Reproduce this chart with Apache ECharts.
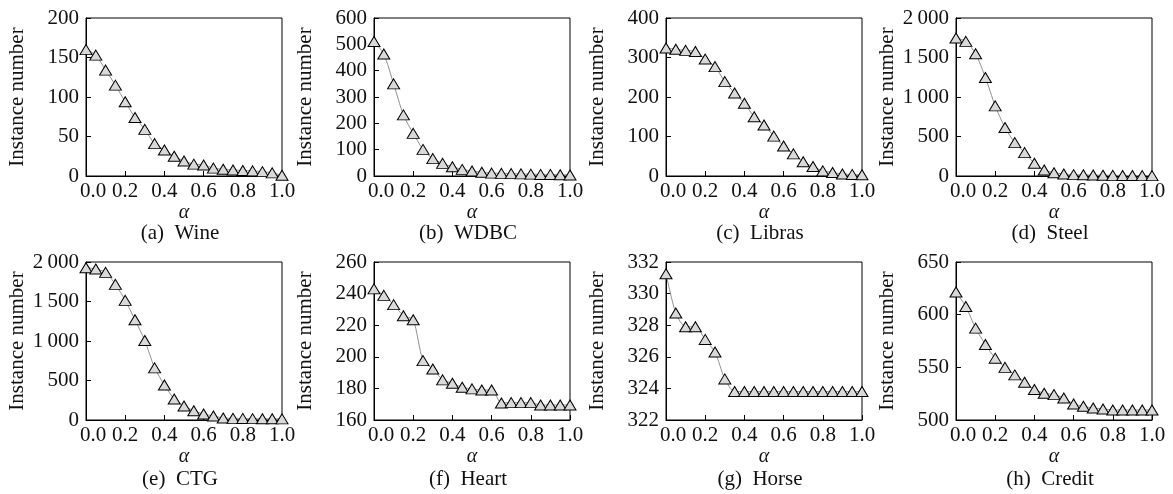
<!DOCTYPE html>
<html>
<head>
<meta charset="utf-8">
<script src="https://cdn.jsdelivr.net/npm/echarts@6/dist/echarts.min.js"></script>
<style>
html,body{margin:0;padding:0;background:#fff;}
#chart{width:1173px;height:494px;}
</style>
</head>
<body>
<div id="chart"></div>
<script>
// ---- data ----
const alpha = [0, 0.05, 0.1, 0.15, 0.2, 0.25, 0.3, 0.35, 0.4, 0.45, 0.5, 0.55, 0.6, 0.65, 0.7, 0.75, 0.8, 0.85, 0.9, 0.95, 1.0];
const panelNames = ['(a)  Wine', '(b)  WDBC', '(c)  Libras', '(d)  Steel', '(e)  CTG', '(f)  Heart', '(g)  Horse', '(h)  Credit'];
const wine   = [160, 153, 134, 115, 94, 74, 59, 41, 33, 25, 19, 15, 14, 10, 8.5, 7.6, 7, 6.5, 5.5, 4, 1];
const wdbc   = [511, 463, 350, 232, 162, 101, 66, 48, 35, 25, 19, 14, 11, 10, 9, 8, 7, 6, 6, 5, 4];
const libras = [324, 321, 318, 315, 296, 277, 239, 210, 184, 150, 129, 101, 76, 56, 36, 24, 13, 9, 5, 4, 3];
const steel  = [1746, 1704, 1548, 1247, 888, 613, 423, 296, 161, 76, 42, 25, 17, 15, 12, 10, 8, 7, 6, 5, 5];
const ctg    = [1928, 1911, 1869, 1717, 1514, 1268, 1006, 660, 444, 266, 178, 118, 76, 51, 25, 21, 20, 17, 16, 15, 14];
const heart  = [243, 238.9, 233, 226, 223.4, 197.6, 192.3, 185.4, 183.3, 180.7, 179.7, 179, 179, 170.8, 171, 171, 171, 169.5, 169.5, 169.5, 169.5];
const horse  = [331.26, 328.77, 327.9, 327.9, 327.1, 326.3, 324.6, 323.8, 323.8, 323.8, 323.8, 323.8, 323.8, 323.8, 323.8, 323.8, 323.8, 323.8, 323.8, 323.8, 323.8];
const credit = [621.5, 607.8, 587.2, 571.7, 558.7, 550, 542.8, 535.8, 528.9, 525.4, 524.1, 520.9, 515.2, 513, 511.4, 510.5, 509.5, 509.5, 509.5, 509.5, 509.5];
const yMins = [0, 0, 0, 0, 0, 160, 322, 500];
const yMaxs = [200, 600, 400, 2000, 2000, 260, 332, 650];
const yIntervals = [50, 100, 100, 500, 500, 20, 2, 50];

const allSeries = [wine, wdbc, libras, steel, ctg, heart, horse, credit];

// ---- layout ----
const FONT = 'Liberation Serif';
const TXT = '#111';
const lefts = [86, 374, 666, 956];
const tops = [18, 262];
const W = 196, H = 158;

function fmtY(v) {
  const s = String(v);
  return s.length > 3 ? s.slice(0, s.length - 3) + '\u2009' + s.slice(-3) : s;
}

const grids = [], xAxes = [], yAxes = [], series = [], graphics = [];
allSeries.forEach((vals, i) => {
  const col = i % 4, row = Math.floor(i / 4);
  grids.push({left: lefts[col], top: tops[row], width: W, height: H,
    show: true, borderColor: '#000', borderWidth: 1, backgroundColor: 'transparent', containLabel: false});
  xAxes.push({
    type: 'value', gridIndex: i, min: 0, max: 1, interval: 0.2,
    name: 'α', nameLocation: 'middle', nameGap: 26,
    nameTextStyle: {fontFamily: FONT, fontStyle: 'italic', fontSize: 20, color: TXT},
    axisLine: {show: true, lineStyle: {color: '#000', width: 1}},
    axisTick: {show: true, inside: true, length: 5, lineStyle: {color: '#000'}},
    splitLine: {show: false},
    axisLabel: {
      fontFamily: FONT, fontSize: 21, color: TXT, margin: 5, showMaxLabel: true, showMinLabel: true,
      formatter: v => v === 0 ? '{a|0.0}' : v.toFixed(1),
      rich: {a: {fontFamily: FONT, fontSize: 21, color: TXT, padding: [0, 0, 0, 14]}}
    }
  });
  yAxes.push({
    type: 'value', gridIndex: i, min: yMins[i], max: yMaxs[i], interval: yIntervals[i],
    name: 'Instance number', nameLocation: 'middle', nameGap: 58,
    nameTextStyle: {fontFamily: FONT, fontSize: 21, color: TXT},
    axisLine: {show: true, lineStyle: {color: '#000', width: 1}},
    axisTick: {show: true, inside: true, length: 5, lineStyle: {color: '#000'}},
    splitLine: {show: false},
    axisLabel: {fontFamily: FONT, fontSize: 21, color: TXT, margin: 7, formatter: fmtY}
  });
  series.push({
    type: 'line', xAxisIndex: i, yAxisIndex: i,
    data: alpha.map((a, k) => [a, vals[k]]),
    smooth: 0.25,
    symbol: 'triangle', symbolSize: [12, 10],
    itemStyle: {color: '#d9d9d9', borderColor: '#000', borderWidth: 1},
    lineStyle: {color: '#909090', width: 1},
    clip: false,
    animation: false
  });
  graphics.push({
    type: 'text', x: lefts[col] + W / 2 - 4, y: row === 0 ? 233 : 479,
    style: {text: panelNames[i], fontFamily: FONT, fontSize: 21, fill: TXT, textAlign: 'center', textVerticalAlign: 'middle'}
  });
});

const chart = echarts.init(document.getElementById('chart'), null, {renderer: 'canvas'});
chart.setOption({
  animation: false,
  backgroundColor: '#fff',
  textStyle: {fontFamily: FONT},
  grid: grids, xAxis: xAxes, yAxis: yAxes, series: series, graphic: graphics
});
</script>
</body>
</html>
